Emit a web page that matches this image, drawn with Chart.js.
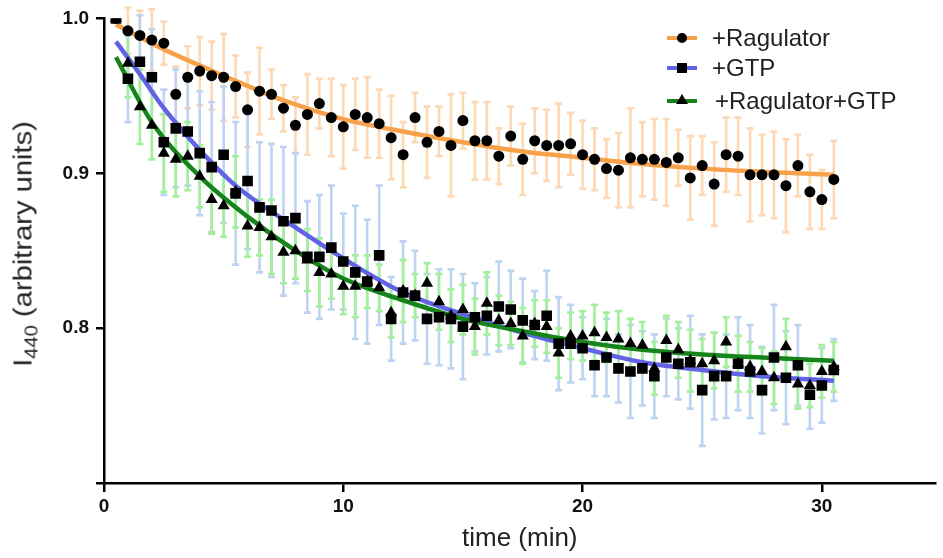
<!DOCTYPE html>
<html>
<head>
<meta charset="utf-8">
<script src="https://cdn.jsdelivr.net/npm/chart.js@4.4.1/dist/chart.umd.min.js"></script>
<style>
  body { margin: 0; background: #fff; font-family: 'Liberation Sans', Arial, sans-serif; }
  #wrap { position: relative; width: 943px; height: 558px; }
  #ytitle { position: absolute; left: 25px; top: 244px; transform: translate(-50%, -50%) rotate(-90deg) scale(1.12, 1);
            white-space: nowrap; font-size: 26px; color: #222; }
  #ytitle sub { font-size: 18px; vertical-align: -6px; }
  .leg { position: absolute; left: 667px; width: 260px; height: 30px; }
  .leg .ln { position: absolute; left: 0; top: 13px; width: 30px; height: 4px; }
  .leg .mk { position: absolute; }
  .leg .tx { position: absolute; left: 45px; top: 0; line-height: 30px; font-size: 24px; color: #222; white-space: nowrap; }
</style>
</head>
<body>
<div id="wrap">
  <canvas id="chart" width="943" height="558"></canvas>
  <div id="ytitle">I<sub>440</sub> (arbitrary units)</div>

  <div class="leg" style="top:23px">
    <div class="ln" style="background:#f7a24b"></div>
    <div class="mk" style="left:10px;top:10px;width:10px;height:10px;border-radius:50%;background:#000"></div>
    <div class="tx">+Ragulator</div>
  </div>
  <div class="leg" style="top:53px">
    <div class="ln" style="background:#6262e6"></div>
    <div class="mk" style="left:10px;top:10px;width:10px;height:10px;background:#000"></div>
    <div class="tx">+GTP</div>
  </div>
  <div class="leg" style="top:86px">
    <div class="ln" style="background:#16841b"></div>
    <div class="mk" style="left:9px;top:8px;width:0;height:0;border-left:6px solid transparent;border-right:6px solid transparent;border-bottom:10px solid #000"></div>
    <div class="tx" style="left:48px">+Ragulator+GTP</div>
  </div>
</div>

<script>
// time points (min)
var times = [0.5, 1, 1.5, 2, 2.5, 3, 3.5, 4, 4.5, 5, 5.5, 6, 6.5, 7, 7.5, 8, 8.5, 9, 9.5, 10,
  10.5, 11, 11.5, 12, 12.5, 13, 13.5, 14, 14.5, 15, 15.5, 16, 16.5, 17, 17.5, 18, 18.5, 19, 19.5, 20,
  20.5, 21, 21.5, 22, 22.5, 23, 23.5, 24, 24.5, 25, 25.5, 26, 26.5, 27, 27.5, 28, 28.5, 29, 29.5, 30, 30.5];

// +Ragulator (circles)
var ragulator = [1.0, 0.992, 0.989, 0.986, 0.984, 0.951, 0.962, 0.966, 0.963, 0.962, 0.956, 0.941, 0.953, 0.951, 0.942, 0.931, 0.938, 0.945, 0.936, 0.930,
  0.938, 0.936, 0.932, 0.923, 0.912, 0.936, 0.920, 0.927, 0.918, 0.934, 0.921, 0.921, 0.911, 0.924, 0.909, 0.921, 0.918, 0.918, 0.919, 0.912,
  0.909, 0.903, 0.902, 0.910, 0.909, 0.909, 0.907, 0.910, 0.897, 0.905, 0.893, 0.912, 0.911, 0.899, 0.899, 0.899, 0.892, 0.905, 0.888, 0.883, 0.896];
var ragulatorErr = [0, 0.015, 0.016, 0.020, 0.014, 0.018, 0.020, 0.022, 0.022, 0.028, 0.020, 0.024, 0.028, 0.016, 0.015, 0.018, 0.026, 0.016, 0.025, 0.027,
  0.023, 0.026, 0.022, 0.027, 0.021, 0.016, 0.023, 0.016, 0.033, 0.018, 0.025, 0.025, 0.018, 0.019, 0.023, 0.021, 0.023, 0.027, 0.020, 0.022,
  0.020, 0.019, 0.024, 0.032, 0.024, 0.026, 0.028, 0.018, 0.027, 0.019, 0.027, 0.024, 0.025, 0.030, 0.026, 0.028, 0.030, 0.020, 0.024, 0.019, 0.025];

// +GTP (squares)
var gtp = [1.0, 0.961, 0.972, 0.962, 0.920, 0.929, 0.927, 0.913, 0.904, 0.912, 0.887, 0.895, 0.878, 0.876, 0.869, 0.871, 0.846, 0.846, 0.852, 0.843,
  0.836, 0.830, 0.847, 0.806, 0.823, 0.821, 0.806, 0.807, 0.806, 0.801, 0.807, 0.808, 0.814, 0.812, 0.805, 0.802, 0.808, 0.790, 0.790, 0.787,
  0.776, 0.781, 0.774, 0.772, 0.774, 0.769, 0.781, 0.777, 0.778, 0.760, 0.769, 0.769, 0.777, 0.772, 0.760, 0.781, 0.768, 0.776, 0.757, 0.763, 0.773];
var gtpErr = [0, 0.028, 0.030, 0.031, 0.034, 0.038, 0.035, 0.040, 0.042, 0.044, 0.046, 0.044, 0.042, 0.043, 0.048, 0.042, 0.036, 0.040, 0.040, 0.031,
  0.043, 0.040, 0.045, 0.027, 0.033, 0.029, 0.029, 0.031, 0.032, 0.034, 0.022, 0.025, 0.029, 0.025, 0.027, 0.022, 0.029, 0.030, 0.025, 0.020,
  0.020, 0.025, 0.022, 0.030, 0.024, 0.027, 0.025, 0.023, 0.030, 0.036, 0.028, 0.027, 0.030, 0.030, 0.028, 0.034, 0.030, 0.026, 0.022, 0.024, 0.020];

// +Ragulator+GTP (triangles)
var ragGtp = [1.0, 0.971, 0.943, 0.931, 0.913, 0.909, 0.911, 0.898, 0.883, 0.879, 0.888, 0.866, 0.865, 0.859, 0.849, 0.850, 0.844, 0.836, 0.835, 0.827,
  0.827, 0.830, 0.826, 0.810, 0.824, 0.821, 0.829, 0.817, 0.808, 0.812, 0.801, 0.816, 0.805, 0.803, 0.795, 0.803, 0.801, 0.784, 0.795, 0.795,
  0.797, 0.794, 0.793, 0.790, 0.789, 0.774, 0.792, 0.786, 0.779, 0.777, 0.779, 0.791, 0.777, 0.775, 0.772, 0.768, 0.788, 0.764, 0.763, 0.772, 0.775];
var ragGtpErr = [0, 0.022, 0.024, 0.022, 0.025, 0.024, 0.022, 0.020, 0.022, 0.020, 0.023, 0.020, 0.018, 0.024, 0.020, 0.018, 0.020, 0.022, 0.016, 0.018,
  0.020, 0.017, 0.015, 0.016, 0.020, 0.014, 0.013, 0.018, 0.017, 0.016, 0.018, 0.020, 0.016, 0.014, 0.018, 0.015, 0.017, 0.016, 0.015, 0.016,
  0.018, 0.016, 0.018, 0.016, 0.015, 0.017, 0.016, 0.018, 0.020, 0.016, 0.018, 0.016, 0.018, 0.016, 0.015, 0.017, 0.018, 0.016, 0.014, 0.017, 0.016];

// fitted curves
var ragFitT = [0.5, 2.5, 5, 7.5, 10, 12.5, 15, 17.5, 20, 22.5, 25, 27.5, 30.5];
var ragFit  = [0.996, 0.980, 0.963, 0.947, 0.935, 0.927, 0.920, 0.914, 0.910, 0.906, 0.903, 0.901, 0.899];
var gtpFitT = [0.5, 1.5, 2.5, 4, 5.5, 8, 10, 12.5, 15, 17.5, 20, 22.5, 25, 27.5, 30.5];
var gtpFit  = [0.985, 0.964, 0.942, 0.915, 0.892, 0.865, 0.845, 0.823, 0.809, 0.797, 0.787, 0.778, 0.773, 0.769, 0.766];
var rgFitT  = [0.5, 2, 4, 6, 8, 10, 12.5, 15, 17.5, 20, 22.5, 25, 27.5, 30.5];
var rgFit   = [0.975, 0.933, 0.898, 0.872, 0.850, 0.832, 0.818, 0.806, 0.798, 0.791, 0.786, 0.783, 0.781, 0.779];

var yTicks = [0.7, 0.8, 0.9, 1.0];
var xTicks = [0, 10, 20, 30];

function toPoints(xs, ys) {
  return xs.map(function(x, i) { return { x: x, y: ys[i] }; });
}

// mean +/- err whiskers, all drawn under the fit lines and markers
var barSets = [
  { mean: ragulator, err: ragulatorErr, color: '#fcd8b4' },
  { mean: gtp, err: gtpErr, color: '#bdd3f1' },
  { mean: ragGtp, err: ragGtpErr, color: '#a3ef9c' }
];

var errorBars = {
  id: 'errorBars',
  beforeDatasetsDraw: function(chart) {
    var xs = chart.scales.x, ys = chart.scales.y, ctx = chart.ctx;
    ctx.save();
    ctx.lineWidth = 2.6;
    barSets.forEach(function(eb) {
      ctx.strokeStyle = eb.color;
      for (var i = 0; i < times.length; i++) {
        if (!eb.err[i]) continue;
        var px = xs.getPixelForValue(times[i]);
        var top = ys.getPixelForValue(eb.mean[i] + eb.err[i]);
        var bot = ys.getPixelForValue(eb.mean[i] - eb.err[i]);
        ctx.beginPath();
        ctx.moveTo(px, top); ctx.lineTo(px, bot);
        ctx.moveTo(px - 3.5, top); ctx.lineTo(px + 3.5, top);
        ctx.moveTo(px - 3.5, bot); ctx.lineTo(px + 3.5, bot);
        ctx.stroke();
      }
    });
    ctx.restore();
  }
};

function fitSet(label, t, v, color, order) {
  return {
    label: label, data: toPoints(t, v), showLine: true, borderColor: color, borderWidth: 4.5,
    pointRadius: 0, cubicInterpolationMode: 'monotone', order: order
  };
}

function pointSet(label, v, style, radius, order) {
  return {
    label: label, data: toPoints(times, v), showLine: false, pointStyle: style, pointRadius: radius,
    backgroundColor: '#000', borderColor: '#000', borderWidth: 0, order: order
  };
}

var tickFont = { family: "'Liberation Sans', Arial, sans-serif", size: 19, weight: 'bold' };

new Chart(document.getElementById('chart'), {
  type: 'scatter',
  data: {
    datasets: [
      // higher order is drawn first: fit lines, then markers
      fitSet('+Ragulator fit', ragFitT, ragFit, '#f7a24b', 6),
      fitSet('+GTP fit', gtpFitT, gtpFit, '#6262e6', 5),
      fitSet('+Ragulator+GTP fit', rgFitT, rgFit, '#16841b', 4),
      pointSet('+Ragulator', ragulator, 'circle', 5.5, 3),
      pointSet('+GTP', gtp, 'rect', 7.5, 2),
      pointSet('+Ragulator+GTP', ragGtp, 'triangle', 7, 1)
    ]
  },
  options: {
    responsive: false,
    animation: false,
    devicePixelRatio: 1,
    layout: { padding: { top: 18, left: 0, right: 0, bottom: 0 } },
    plugins: { legend: { display: false }, tooltip: { enabled: false } },
    scales: {
      x: {
        type: 'linear', min: 0, max: 34.75,
        afterBuildTicks: function(s) { s.ticks = xTicks.map(function(v) { return { value: v }; }); },
        afterFit: function(s) { s.height = 75; },
        ticks: { font: tickFont, color: '#111', padding: 3 },
        grid: { drawOnChartArea: false, drawTicks: true, tickLength: 9, color: '#000', lineWidth: 2.5 },
        border: { display: true, color: '#000', width: 2.5 },
        title: { display: true, text: 'time (min)', color: '#222',
                 font: { family: "'Liberation Sans', Arial, sans-serif", size: 26 }, padding: { top: 0, bottom: 4 } }
      },
      y: {
        min: 0.7, max: 1.0,
        afterBuildTicks: function(s) { s.ticks = yTicks.map(function(v) { return { value: v }; }); },
        afterFit: function(s) { s.width = 104; },
        ticks: {
          font: tickFont, color: '#111', padding: 7,
          callback: function(v) { return Math.abs(v - 0.7) < 1e-6 ? '' : v.toFixed(1); }
        },
        grid: { drawOnChartArea: false, drawTicks: true, tickLength: 8, color: '#000', lineWidth: 2.5 },
        border: { display: true, color: '#000', width: 2.5 }
      }
    }
  },
  plugins: [errorBars]
});
</script>
</body>
</html>
